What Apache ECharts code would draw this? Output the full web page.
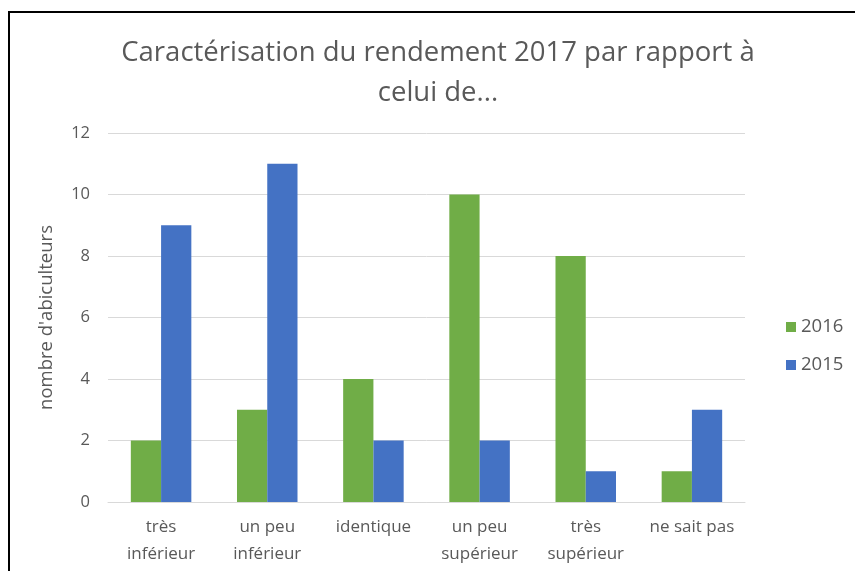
<!DOCTYPE html>
<html>
<head>
<meta charset="utf-8">
<script src="https://cdn.jsdelivr.net/npm/echarts@6/dist/echarts.min.js"></script>
<style>
  html, body { margin: 0; padding: 0; background: #fff; }
  #wrap { position: relative; width: 855px; height: 571px; overflow: hidden; }
  #chart { width: 855px; height: 571px; }
  #frame { position: absolute; left: 8px; top: 11px; right: -20px; bottom: -20px; border: 2px solid #000; pointer-events: none; }
</style>
</head>
<body>
<div id="wrap">
  <div id="chart"></div>
  <div id="frame"></div>
</div>
<script>
// données
const categories = ['très\ninférieur', 'un peu\ninférieur', 'identique', 'un peu\nsupérieur', 'très\nsupérieur', 'ne sait pas'];
const values2016 = [2, 3, 4, 10, 8, 1];
const values2015 = [9, 11, 2, 2, 1, 3];
const yTicks = { min: 0, max: 12, interval: 2 };

const font = '"Open Sans", "Noto Sans", sans-serif';
const echart = echarts.init(document.getElementById('chart'));
const option = {
  animation: false,
  textStyle: { fontFamily: font },
  title: {
    text: 'Caractérisation du rendement 2017 par rapport à\ncelui de...',
    left: 433,
    top: 28,
    textAlign: 'center',
    textStyle: {
      fontFamily: font,
      fontSize: 27.5,
      fontWeight: 'normal',
      color: '#595959',
      lineHeight: 40
    }
  },
  legend: {
    data: ['2016', '2015'],
    orient: 'vertical',
    left: 781,
    top: 312,
    itemWidth: 10,
    itemHeight: 10,
    itemGap: 18,
    icon: 'rect',
    textStyle: { fontFamily: font, fontSize: 18.5, lineHeight: 20, color: '#595959' }
  },
  grid: {
    left: 108,
    right: 110,
    top: 133,
    bottom: 69
  },
  xAxis: [
    {
      type: 'category',
      data: categories,
      axisLine: { show: true, lineStyle: { color: '#d9d9d9' } },
      axisTick: { show: false },
      axisLabel: {
        margin: 12,
        fontFamily: font,
        fontSize: 17,
        color: '#595959',
        lineHeight: 27,
        interval: 0
      }
    }
  ],
  yAxis: [
    {
      type: 'value',
      min: yTicks.min,
      max: yTicks.max,
      interval: yTicks.interval,
      name: "nombre d'abiculteurs",
      nameLocation: 'middle',
      nameGap: 52,
      nameTextStyle: { fontFamily: font, fontSize: 18.5, color: '#595959' },
      splitLine: { show: true, lineStyle: { color: '#d9d9d9' } },
      axisLine: { show: false },
      axisTick: { show: false },
      axisLabel: { margin: 18, fontFamily: font, fontSize: 16.5, color: '#595959' }
    }
  ],
  series: [
    {
      name: '2016',
      type: 'bar',
      barGap: '0%',
      barCategoryGap: '43%',
      itemStyle: { color: '#70AD47' },
      data: values2016
    },
    {
      name: '2015',
      type: 'bar',
      itemStyle: { color: '#4472C4' },
      data: values2015
    }
  ]
};
echart.setOption(option);
</script>
</body>
</html>
